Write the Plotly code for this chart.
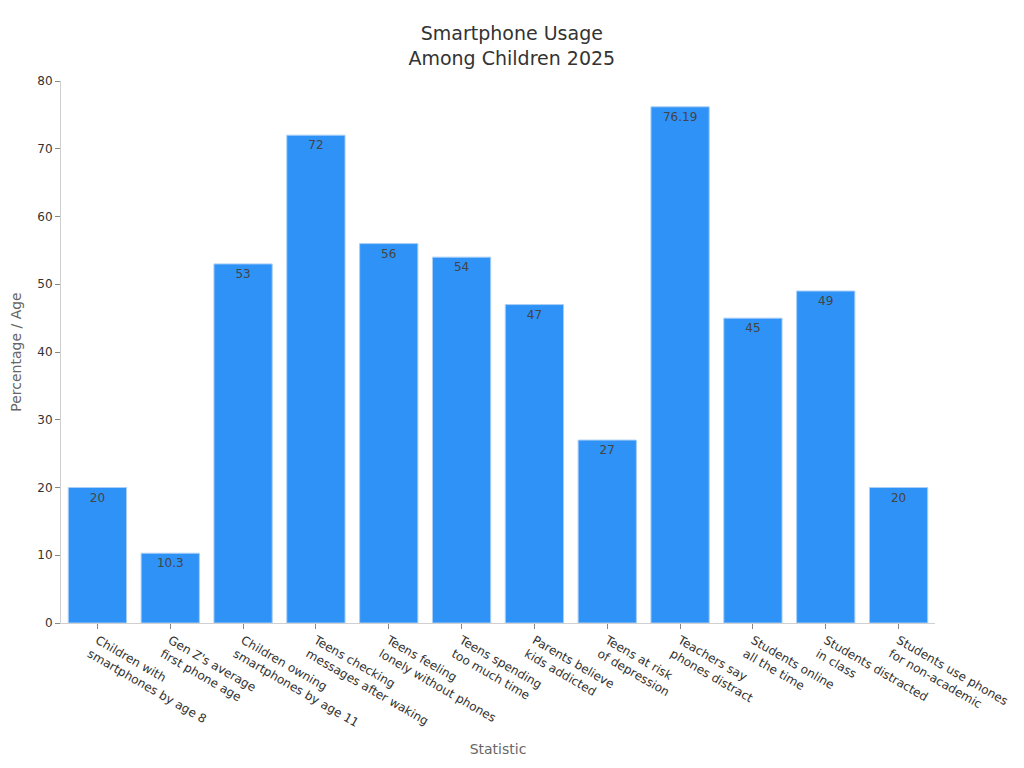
import plotly.graph_objects as go

# chart data
statistics = [
    "Children with<br>smartphones by age 8",
    "Gen Z's average<br>first phone age",
    "Children owning<br>smartphones by age 11",
    "Teens checking<br>messages after waking",
    "Teens feeling<br>lonely without phones",
    "Teens spending<br>too much time",
    "Parents believe<br>kids addicted",
    "Teens at risk<br>of depression",
    "Teachers say<br>phones distract",
    "Students online<br>all the time",
    "Students distracted<br>in class",
    "Students use phones<br>for non-academic",
]
values = [20, 10.3, 53, 72, 56, 54, 47, 27, 76.19, 45, 49, 20]
value_labels = ["20", "10.3", "53", "72", "56", "54", "47", "27", "76.19", "45", "49", "20"]

fig = go.Figure()
fig.add_trace(
    go.Bar(
        x=statistics,
        y=values,
        text=value_labels,
        textposition="inside",
        insidetextanchor="end",
        textfont=dict(color="#444444", size=12),
        marker=dict(color="#2f92f6", line=dict(color="#a9cff7", width=1)),
        hoverinfo="x+y",
    )
)

# page has an 8px body margin, so margins are shifted to line up with the reference
fig.update_layout(
    width=1024,
    height=768,
    font=dict(family="DejaVu Sans", color="#444444"),
    title=dict(
        text="Smartphone Usage<br>Among Children 2025",
        x=0.492,
        xanchor="center",
        y=0.958,
        font=dict(size=19, color="#333333"),
    ),
    plot_bgcolor="white",
    paper_bgcolor="white",
    margin=dict(l=53, r=97, t=73, b=153),
    bargap=0.2,
    showlegend=False,
)
fig.update_xaxes(
    title=dict(text="Statistic", font=dict(size=14, color="#666666")),
    tickangle=30,
    tickfont=dict(size=12, color="#333333"),
    showline=True,
    linecolor="#d0d0d0",
    ticks="outside",
    tickcolor="#888888",
    ticklen=5,
    showgrid=False,
    automargin=False,
)
fig.update_yaxes(
    title=dict(text="Percentage / Age", font=dict(size=14, color="#666666")),
    range=[0, 80],
    dtick=10,
    tickfont=dict(size=12, color="#333333"),
    showline=True,
    linecolor="#d0d0d0",
    ticks="outside",
    tickcolor="#888888",
    ticklen=5,
    showgrid=False,
    zeroline=False,
    automargin=False,
)

fig.write_html("out.html")
